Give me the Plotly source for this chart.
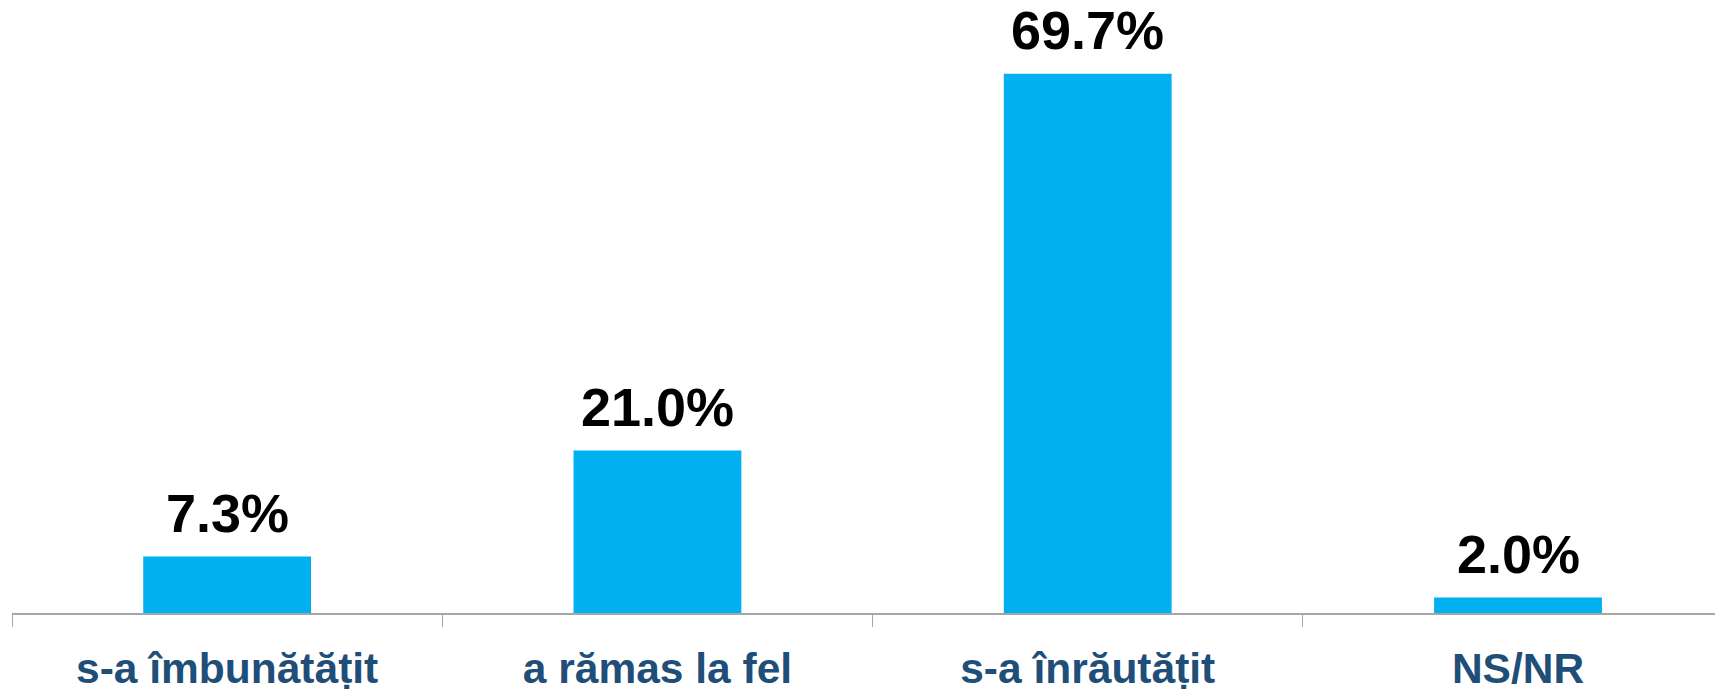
import plotly.graph_objects as go

categories = ["s-a îmbunătățit", "a rămas la fel", "s-a înrăutățit", "NS/NR"]
values = [7.3, 21.0, 69.7, 2.0]
value_labels = ["7.3%", "21.0%", "69.7%", "2.0%"]

FONT = "Liberation Sans, Arial, sans-serif"

fig = go.Figure()
fig.add_trace(go.Bar(
    x=categories,
    y=values,
    marker=dict(color="#00B0F0", line=dict(width=0)),
    width=0.39,
    hoverinfo="skip",
))

for c, v, t in zip(categories, values, value_labels):
    fig.add_annotation(
        x=c, y=v, text=f"<b>{t}</b>", showarrow=False,
        xanchor="center", yanchor="bottom", yshift=12,
        font=dict(family=FONT, size=54, color="#000000"),
    )

fig.update_layout(
    width=1723, height=689,
    margin=dict(l=4, r=0, t=0, b=84, autoexpand=False),
    paper_bgcolor="white", plot_bgcolor="white",
    showlegend=False,
    xaxis=dict(
        type="category",
        range=[-0.5, 3.495],
        showline=True, linecolor="#A6A6A6", linewidth=1.5,
        ticks="outside", tickson="boundaries", ticklen=12,
        tickcolor="#A6A6A6", tickwidth=1,
        showgrid=False, zeroline=False,
        tickfont=dict(family=FONT, size=42.5, color="#1F4E79", weight="bold"),
        ticklabelstandoff=17,
        automargin=False,
    ),
    yaxis=dict(
        range=[0, 78.2], visible=False, showgrid=False, zeroline=False,
    ),
)

fig.write_html("out.html")
